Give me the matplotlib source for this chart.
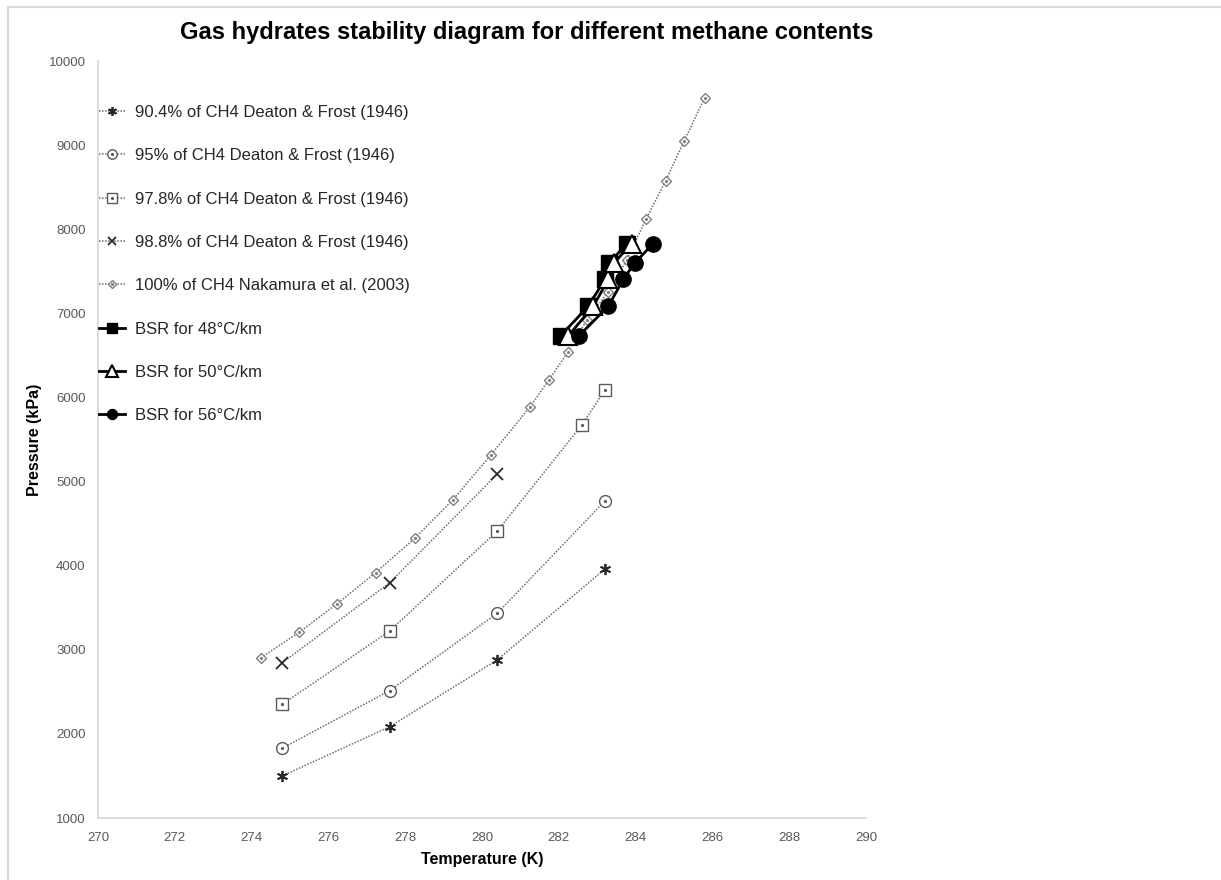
import matplotlib
matplotlib.use("Agg")
import matplotlib.pyplot as plt
from matplotlib.lines import Line2D
from matplotlib.legend_handler import HandlerTuple

plt.rcParams['font.family'] = ['Liberation Sans', 'DejaVu Sans']

# Deaton & Frost (1946) hydrate equilibrium points
t_904 = [274.8, 277.6, 280.4, 283.2]
p_904 = [1500, 2086, 2880, 3960]

t_95 = [274.8, 277.6, 280.4, 283.2]
p_95 = [1830, 2515, 3435, 4770]

t_978 = [274.8, 277.6, 280.4, 282.6, 283.2]
p_978 = [2352, 3225, 4413, 5673, 6089]

t_988 = [274.8, 277.6, 280.4]
p_988 = [2847, 3798, 5090]

# Nakamura et al. (2003), pure methane
t_100 = [274.24, 275.24, 276.22, 277.23, 278.25, 279.24, 280.23, 281.25,
         281.74, 282.24, 282.73, 283.29, 283.77, 284.27, 284.78, 285.27, 285.80]
p_100 = [2906, 3208, 3545, 3917, 4326, 4781, 5316, 5887,
         6208, 6541, 6921, 7258, 7635, 8119, 8574, 9054, 9565]

# BSR points for the three geothermal gradients
p_bsr = [6735, 7085, 7405, 7600, 7830]
t_bsr48 = [282.05, 282.77, 283.20, 283.31, 283.78]
t_bsr50 = [282.25, 282.90, 283.29, 283.44, 283.90]
t_bsr56 = [282.53, 283.29, 283.68, 283.98, 284.46]

labels = ["90.4% of CH4 Deaton & Frost (1946)",
          "95% of CH4 Deaton & Frost (1946)",
          "97.8% of CH4 Deaton & Frost (1946)",
          "98.8% of CH4 Deaton & Frost (1946)",
          "100% of CH4 Nakamura et al. (2003)",
          "BSR for 48°C/km",
          "BSR for 50°C/km",
          "BSR for 56°C/km"]

W, H = 1221, 880
fig = plt.figure(figsize=(W / 100, H / 100), dpi=100)
ax = fig.add_axes([98 / W, 1 - 818 / H, (866 - 98) / W, (818 - 61) / H])

gray = "#5a5a5a"
lgray = "#808080"
handles = []

def data_series(t, p, marker, ms, ec, mew=1.0, dot=True):
    ln, = ax.plot(t, p, linestyle=(0, (1, 1)), color="#6e6e6e", lw=1.1,
                  marker=marker, ms=ms, mfc="white", mec=ec, mew=mew, zorder=3)
    if dot:
        d, = ax.plot(t, p, ls="none", marker="o", ms=1.3, color=ec, zorder=4)
        handles.append((ln, d))
    else:
        handles.append(ln)

data_series(t_904, p_904, (6, 2, 0), 8, "#2a2a2a", 1.3, dot=False)
data_series(t_95, p_95, "o", 8.5, gray)
data_series(t_978, p_978, "s", 8.5, gray)
data_series(t_988, p_988, "x", 8, "#2a2a2a", 1.3, dot=False)
data_series(t_100, p_100, "D", 5.5, lgray)

l48, = ax.plot(t_bsr48, p_bsr, color="black", lw=2, marker="s", ms=11.5,
               mfc="black", mec="black", zorder=5)
l50, = ax.plot(t_bsr50, p_bsr, color="black", lw=2, marker="^", ms=13,
               mfc="white", mec="black", mew=1.5, zorder=6)
l56, = ax.plot(t_bsr56, p_bsr, color="black", lw=2, marker="o", ms=11,
               mfc="black", mec="black", zorder=7)
handles += [l48, l50, l56]

ax.set_xlim(270, 290)
ax.set_ylim(1000, 10000)
ax.set_xticks(range(270, 291, 2))
ax.set_yticks(range(1000, 10001, 1000))
ax.tick_params(length=0, labelsize=9.5, labelcolor="#595959")
ax.tick_params(axis="x", pad=10)
ax.tick_params(axis="y", pad=9)
for s in ["top", "right"]:
    ax.spines[s].set_visible(False)
for s in ["left", "bottom"]:
    ax.spines[s].set_color("#d9d9d9")
    ax.spines[s].set_linewidth(1.3)

ax.set_xlabel("Temperature (K)", fontsize=11.5, fontweight="bold", labelpad=6)
ax.set_ylabel("Pressure (kPa)", fontsize=11.5, fontweight="bold", labelpad=5)

fig.text(527 / W, 1 - 33 / H, "Gas hydrates stability diagram for different methane contents",
         ha="center", va="center", fontsize=17, fontweight="bold")

leg = ax.legend(handles, labels, loc="upper left",
                bbox_to_anchor=(99 / W, 1 - 105 / H), bbox_transform=fig.transFigure,
                frameon=False, fontsize=12, handlelength=1.55, handletextpad=0.6,
                labelspacing=1.7, borderpad=0, borderaxespad=0,
                handler_map={tuple: HandlerTuple(ndivide=1, pad=0)})
for t in leg.get_texts():
    t.set_color("#262626")
for h in leg.legend_handles:
    items = h if isinstance(h, tuple) else [h]
    for it in items:
        if hasattr(it, "get_markersize"):
            ms = it.get_markersize()
            it.set_markersize(ms * (0.65 if ms > 9 else 0.8 if ms > 2 else 1))

# chart area border (left and top edges visible)
fig.add_artist(Line2D([8 / W, 8 / W], [0, 1 - 7 / H], color="#d9d9d9", lw=1.5))
fig.add_artist(Line2D([8 / W, 1], [1 - 7 / H, 1 - 7 / H], color="#d9d9d9", lw=1.5))

fig.savefig("out.png", dpi=100)
